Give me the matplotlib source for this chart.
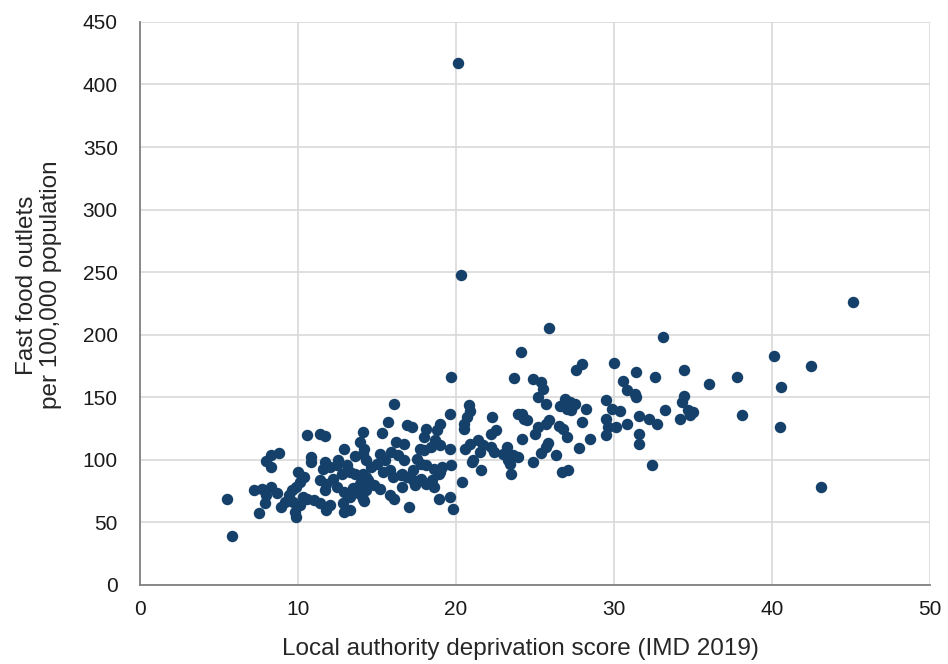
import matplotlib.pyplot as plt

# deprivation score (x) and fast food outlets per 100k (y)
imd = [20.1, 20.3, 45.1, 25.9, 33.1, 24.1, 40.1, 42.5, 19.7, 23.7, 28.0, 27.6, 30.0, 34.4, 31.4,
       32.6, 37.8, 36.0, 40.6, 30.6, 43.1, 40.5, 38.1, 32.4,
       24.9, 25.4, 25.5, 30.8, 31.3, 31.4, 25.2, 25.7, 29.5, 26.9, 27.2, 26.6, 27.0, 27.3, 27.5,
       28.2, 29.9, 30.4, 24.2, 24.3, 24.5, 31.6, 32.2, 32.7, 29.5, 29.6, 30.1, 28.0, 30.8, 25.9,
       25.7, 25.2, 25.0, 26.5, 26.8, 27.0, 29.5, 31.6, 31.6, 28.5, 24.2, 25.8, 25.7, 25.4, 24.9,
       26.3, 27.8, 23.2, 23.0, 23.3, 23.6, 23.9, 23.5, 26.7, 27.1,
       34.4, 34.3, 34.7, 35.0, 34.8, 33.2, 34.2,
       16.1, 19.6, 20.8, 20.9, 20.7, 22.3, 23.9, 15.7, 16.9, 17.2, 19.0, 18.8, 18.1, 18.0, 20.5,
       20.5, 14.1, 15.3, 22.5, 22.2, 18.7, 19.0, 18.4, 16.2, 16.7, 17.7, 18.0, 19.6, 20.6, 20.9,
       21.4, 21.7, 21.5, 22.2, 22.4, 23.4, 21.1, 21.6, 20.4, 14.1, 14.3, 14.6, 14.1, 14.4, 13.9,
       15.2, 15.5, 15.0, 15.9, 16.3, 16.7, 17.5, 17.8, 17.3, 18.1, 18.6, 18.9, 19.1, 15.8, 16.0,
       16.5, 16.9, 17.3, 17.8, 18.1, 18.5, 18.6, 14.8, 15.2, 14.3, 16.6, 15.8, 16.1, 14.2, 17.0,
       18.9, 19.6, 19.8, 19.7, 21.0, 17.4, 19.0, 16.6, 15.4, 13.6, 14.0,
       10.55, 11.4, 11.7, 12.9, 13.9, 14.2, 8.8, 8.3, 8.0, 8.3, 10.8, 10.8, 11.7, 11.6, 12.0,
       12.45, 13.1, 13.3, 12.8, 10.0, 10.4, 11.4, 11.8, 12.2, 12.45, 11.7, 12.9, 13.5, 14.3, 7.2,
       7.7, 8.3, 8.0, 7.9, 8.65, 8.9, 9.4, 9.6, 9.9, 9.2, 9.7, 10.3, 10.1, 9.8, 10.55, 11.0,
       11.4, 11.8, 12.0, 12.9, 13.3, 7.5, 9.9, 5.5, 5.85, 13.9, 14.1, 13.3, 12.85, 10.1, 12.5,
       13.6]
outlets = [417, 248, 226, 205, 198, 186, 183, 175, 166, 165.7, 177, 172, 177.7, 172, 170.5,
           166, 166.5, 161, 158.5, 163, 78, 126.5, 136, 96,
           165, 162.5, 157, 156, 153, 150, 150.5, 145, 148, 148.4, 146.5, 143, 141, 140, 144.5,
           140.4, 140.4, 139, 137, 133, 132, 135, 132.5, 129, 132.5, 126.5, 126, 130, 128.7, 132,
           129, 126, 121, 127, 125, 118, 120, 121, 112.7, 116.5, 116.5, 113.7, 110.5, 105.7, 98.6,
           104, 109.8, 110.5, 105, 100, 104, 102, 89, 90.5, 92,
           151, 146.5, 140, 138, 136, 140, 132.5,
           145, 137, 144, 139, 134.5, 134, 137, 130.5, 128, 126.5, 129, 124, 125, 118.5, 129,
           125, 122.5, 121.5, 124, 121, 116, 112, 110.5, 114.5, 113, 109, 108, 108.5, 109, 113,
           116, 112, 106.5, 110.5, 106.5, 97, 100, 91.5, 82.5, 105, 100, 94.6, 89, 84, 81,
           105, 100, 97, 106.5, 104, 100, 101, 97, 92, 96, 93, 89, 94.5, 92, 86.6,
           88, 86.6, 84, 85, 81, 84, 78.6, 80, 77, 76, 78.6, 72, 69, 67.4, 62.6,
           69, 70, 60.5, 96, 98.6, 80, 90.6, 89, 90.6, 89, 82.6,
           120, 121, 119, 108.7, 114.5, 109, 105.7, 104, 99, 94, 102, 98.6, 98.6, 93, 94.6,
           96, 96, 90.6, 89, 90.6, 86.6, 84, 81, 85, 78.6, 76, 74.6, 77.3, 86.6, 76,
           77, 78.6, 72, 65.8, 73.3, 62.6, 72, 76, 78.6, 66.6, 66.6, 70.6, 64, 58.6, 69, 68,
           65.3, 60, 64, 58.6, 60, 57.8, 54.6, 69, 39.4, 73, 69, 70.6, 65.5, 82, 100,
           103]

x_ticks = [0, 10, 20, 30, 40, 50]
y_ticks = [0, 50, 100, 150, 200, 250, 300, 350, 400, 450]

plt.rcParams['font.family'] = ['Liberation Sans', 'DejaVu Sans']
fig = plt.figure(figsize=(9.48, 6.64), dpi=100)
ax = fig.add_axes([0.1477, 0.119, 0.8333, 0.848])

ax.scatter(imd, outlets, s=68, color='#15406a', linewidths=0, zorder=3)

ax.set_xlim(0, 50)
ax.set_ylim(0, 450)
ax.set_xticks(x_ticks)
ax.set_yticks(y_ticks)
ax.grid(True, color='#d9d9d9', linewidth=1.2, zorder=0)
ax.set_axisbelow(True)

for side in ['top', 'right']:
    ax.spines[side].set_visible(False)
for side in ['left', 'bottom']:
    ax.spines[side].set_color('#808080')
    ax.spines[side].set_linewidth(1.3)

ax.tick_params(axis='both', length=0, labelsize=15, labelcolor='#1a1a1a')
ax.tick_params(axis='x', pad=11)
ax.tick_params(axis='y', pad=16)

ax.set_xlabel('Local authority deprivation score (IMD 2019)', fontsize=17.5,
              color='#262626')
ax.set_ylabel('Fast food outlets\nper 100,000 population', fontsize=17.5,
              color='#262626', linespacing=1.1)
# labels sit a little off-centre in the original
ax.xaxis.set_label_coords(0.481, -0.095)
ax.yaxis.set_label_coords(-0.099, 0.533)

fig.savefig('out.png', dpi=100)
